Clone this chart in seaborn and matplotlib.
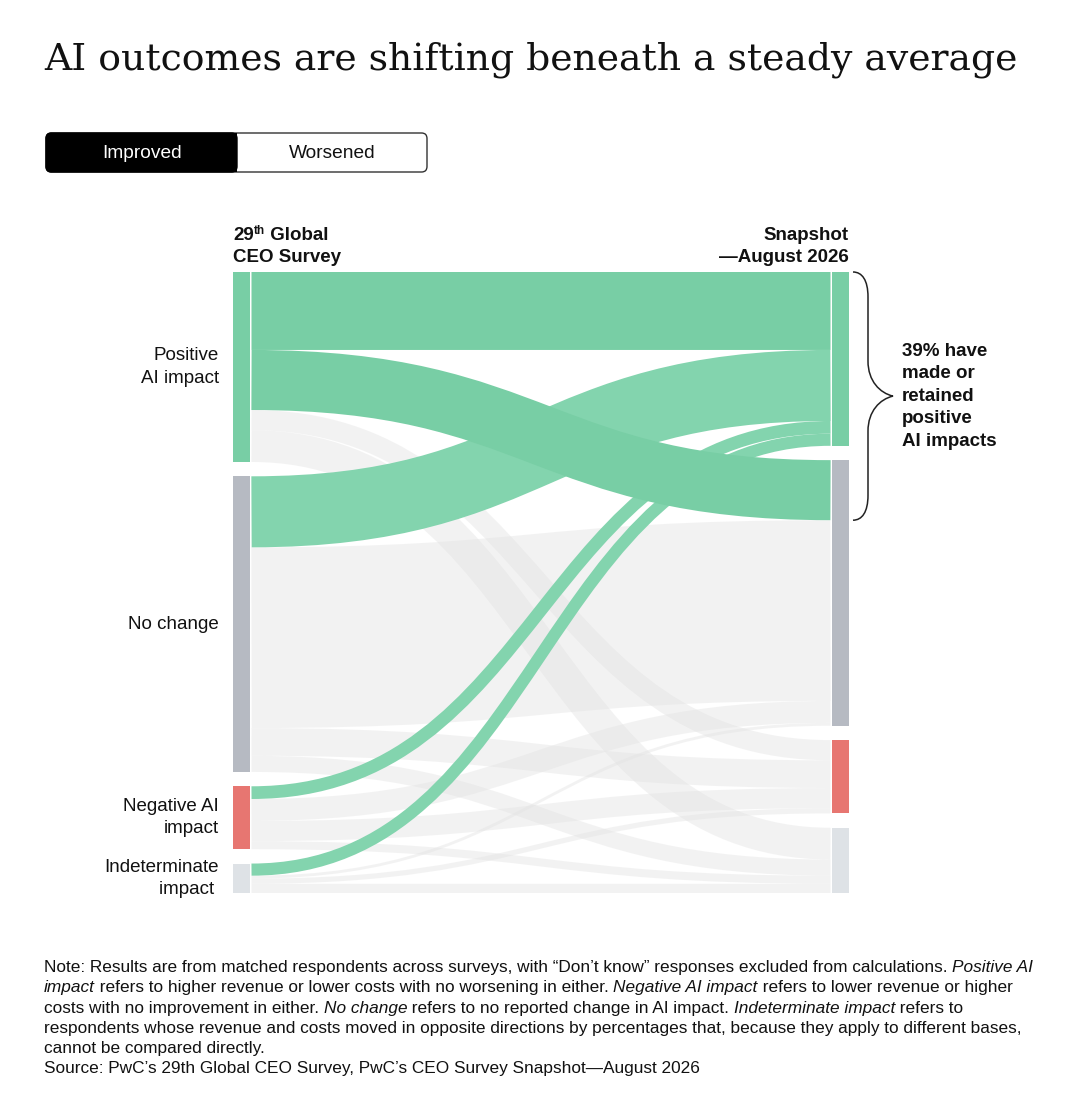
import numpy as np
import matplotlib
matplotlib.use("Agg")
import matplotlib.pyplot as plt
import seaborn as sns
from matplotlib.path import Path
from matplotlib.patches import PathPatch, FancyBboxPatch, Rectangle

# ---- data (share of matched respondents, %) ----
nodes = ["Positive AI impact", "No change", "Negative AI impact", "Indeterminate impact"]
node_labels = ["Positive\nAI impact", "No change", "Negative AI\nimpact", "Indeterminate\nimpact "]
# rows: 29th Global CEO Survey outcome, cols: Snapshot August 2026 outcome
from_positive = [13.5, 10.4, 3.5, 5.5]
from_no_change = [12.3, 31.3, 4.8, 2.8]
from_negative = [2.2, 3.8, 3.5, 1.4]
from_indeterminate = [2.1, 0.5, 0.9, 1.6]
brace_label = "39% have\nmade or\nretained\npositive\nAI impacts"

flows = np.array([from_positive, from_no_change, from_negative, from_indeterminate])

# ---- style ----
sns.set_theme(style="white")
plt.rcParams["font.family"] = ["Liberation Sans", "DejaVu Sans"]

W, H, DPI = 1081, 1120, 100
NODE_COLORS = ["#78CEA5", "#B6BAC2", "#E77671", "#DEE2E6"]
GREEN = "#78CEA5"
GREEN_LIGHT = "#83D4AE"
GREY_LINK = "#E2E2E2"
TXT = "#111111"

fig = plt.figure(figsize=(W / DPI, H / DPI), dpi=DPI)
fig.patch.set_facecolor("white")

# chart area in pixels
AX_L, AX_R, AX_T, AX_B = 233, 849, 272, 893
ax = fig.add_axes([AX_L / W, 1 - AX_B / H, (AX_R - AX_L) / W, (AX_B - AX_T) / H])
ax.set_axis_off()

GAP = 2.48
left_tot = flows.sum(axis=1)
right_tot = flows.sum(axis=0)
ymax = max(left_tot.sum(), right_tot.sum()) + GAP * 3
ax.set_xlim(0, 1)
ax.set_ylim(ymax, 0)

px_x = AX_R - AX_L
px_y = (AX_B - AX_T) / ymax
node_w = 17 / px_x
pad = 1.5 / px_x


def starts(tot):
    out, acc = [], 0.0
    for t in tot:
        out.append(acc)
        acc += t + GAP
    return np.array(out)


left_y = starts(left_tot)
right_y = starts(right_tot)

# nodes
ax.bar(np.zeros(4), left_tot, bottom=left_y, width=node_w, align="edge",
       color=NODE_COLORS, linewidth=0, zorder=5)
ax.bar(np.full(4, 1 - node_w), right_tot, bottom=right_y, width=node_w, align="edge",
       color=NODE_COLORS, linewidth=0, zorder=5)


def draw_link(y0, y1, w, color, alpha, z):
    x0, x1 = node_w + pad, 1 - node_w - pad
    xm = (x0 + x1) / 2
    path = Path([(x0, y0), (xm, y0), (xm, y1), (x1, y1)],
                [Path.MOVETO, Path.CURVE4, Path.CURVE4, Path.CURVE4])
    lw = w * px_y * 72 / DPI
    ax.add_patch(PathPatch(path, fill=False, edgecolor=color, lw=lw, alpha=alpha,
                           capstyle="butt", zorder=z))


# link offsets inside nodes
src_off = left_y.copy()
link_src = np.zeros_like(flows)
for i in range(4):
    for j in range(4):
        link_src[i, j] = src_off[i]
        src_off[i] += flows[i, j]
tgt_off = right_y.copy()
link_tgt = np.zeros_like(flows)
for j in range(4):
    for i in range(4):
        link_tgt[i, j] = tgt_off[j]
        tgt_off[j] += flows[i, j]

green_links = {(0, 0): GREEN, (0, 1): GREEN, (1, 0): GREEN_LIGHT,
               (2, 0): GREEN_LIGHT, (3, 0): GREEN_LIGHT}
order = {(1, 0): 2, (2, 0): 2.1, (3, 0): 2.2, (0, 1): 3, (0, 0): 3.1}

for i in range(4):
    for j in range(4):
        w = flows[i, j]
        y0 = link_src[i, j] + w / 2
        y1 = link_tgt[i, j] + w / 2
        if (i, j) in green_links:
            draw_link(y0, y1, w, green_links[(i, j)], 1.0, order[(i, j)])
        else:
            draw_link(y0, y1, w, GREY_LINK, 0.42, 1)

# node labels
for k in range(4):
    ax.text(-14 / px_x, left_y[k] + left_tot[k] / 2, node_labels[k], ha="right",
            va="center", fontsize=13.5, color=TXT, linespacing=1.42, clip_on=False)

# brace for positive outcomes
top = right_y[0]
bot = right_y[1] + flows[0, 1]
mid = (top + bot) / 2


def bx(p):
    return 1 + (p - AX_R) / px_x


def by(d):
    return d / px_y


brace = Path(
    [(bx(853), top), (bx(862), top), (bx(868), top + by(8)), (bx(868), top + by(25)),
     (bx(868), mid - by(35)),
     (bx(868), mid - by(15)), (bx(880), mid - by(3)), (bx(893), mid),
     (bx(880), mid + by(3)), (bx(868), mid + by(15)), (bx(868), mid + by(35)),
     (bx(868), bot - by(25)),
     (bx(868), bot - by(8)), (bx(862), bot), (bx(853), bot)],
    [Path.MOVETO, Path.CURVE4, Path.CURVE4, Path.CURVE4, Path.LINETO,
     Path.CURVE4, Path.CURVE4, Path.CURVE4, Path.CURVE4, Path.CURVE4, Path.CURVE4,
     Path.LINETO, Path.CURVE4, Path.CURVE4, Path.CURVE4])
ax.add_patch(PathPatch(brace, fill=False, edgecolor="#222222", lw=1.1, clip_on=False))
ax.text(bx(902), mid, brace_label, ha="left", va="center", fontsize=13.5,
        fontweight="bold", color=TXT, linespacing=1.42, clip_on=False)

# ---- text outside the chart, placed in pixels ----
renderer = fig.canvas.get_renderer()


def fx(p):
    return p / W


def fy(p):
    return 1 - p / H


def run_width(s, **kw):
    t1 = fig.text(0, 0, s + "|", **kw)
    t2 = fig.text(0, 0, "|", **kw)
    w = t1.get_window_extent(renderer).width - t2.get_window_extent(renderer).width
    t1.remove()
    t2.remove()
    return w


def draw_runs(x, y, runs, size, **base):
    for s, style in runs:
        kw = dict(fontsize=size, **base)
        kw.update(style)
        dy = kw.pop("dy", 0)
        fig.text(fx(x), fy(y - dy), s, va="baseline", ha="left", **kw)
        x += run_width(s, **kw)


fig.text(fx(44), fy(70), "AI outcomes are shifting beneath a steady average",
         fontsize=27.2, family=["DejaVu Serif"], color=TXT,
         va="baseline", ha="left")

# toggle
tog = FancyBboxPatch((fx(46), fy(172)), fx(427 - 46), 39 / H,
                     boxstyle="round,pad=0,rounding_size=0.005",
                     transform=fig.transFigure, facecolor="white",
                     edgecolor="#333333", lw=1.0)
fig.add_artist(tog)
tog_on = FancyBboxPatch((fx(46), fy(172)), fx(237 - 46), 39 / H,
                        boxstyle="round,pad=0,rounding_size=0.005",
                        transform=fig.transFigure, facecolor="black",
                        edgecolor="black", lw=1.0)
fig.add_artist(tog_on)
fig.add_artist(Rectangle((fx(200), fy(172)), fx(37), 39 / H,
                         transform=fig.transFigure, facecolor="black", lw=0))
fig.text(fx(142), fy(153), "Improved", color="white", fontsize=13.8,
         ha="center", va="center")
fig.text(fx(332), fy(153), "Worsened", color=TXT, fontsize=13.8,
         ha="center", va="center")

# column headers
bold = {"fontweight": "bold"}
draw_runs(233, 240, [("29", bold), ("th", {"fontweight": "bold", "fontsize": 8.5, "dy": 6}),
                     (" Global", bold)], 13.5, color=TXT)
draw_runs(233, 262, [("CEO Survey", bold)], 13.5, color=TXT)
fig.text(fx(849), fy(240), "Snapshot", ha="right", va="baseline", fontsize=13.5,
         fontweight="bold", color=TXT)
fig.text(fx(849), fy(262), "\u2014August 2026", ha="right", va="baseline",
         fontsize=13.5, fontweight="bold", color=TXT)

# note
n = {}
it = {"style": "italic"}
note_lines = [
    [("Note: Results are from matched respondents across surveys, with \u201cDon\u2019t know\u201d "
      "responses excluded from calculations. ", n), ("Positive AI", it)],
    [("impact", it), (" refers to higher revenue or lower costs with no worsening in either. ", n),
     ("Negative AI impact", it), (" refers to lower revenue or higher", n)],
    [("costs with no improvement in either. ", n), ("No change", it),
     (" refers to no reported change in AI impact. ", n), ("Indeterminate impact", it),
     (" refers to", n)],
    [("respondents whose revenue and costs moved in opposite directions by percentages "
      "that, because they apply to different bases,", n)],
    [("cannot be compared directly.", n)],
    [("Source: PwC\u2019s 29th Global CEO Survey, PwC\u2019s CEO Survey Snapshot\u2014August 2026", n)],
]
for k, line in enumerate(note_lines):
    draw_runs(44, 972 + k * 20.3, line, 12.4, color=TXT)

fig.savefig("out.png", dpi=DPI, facecolor="white")
